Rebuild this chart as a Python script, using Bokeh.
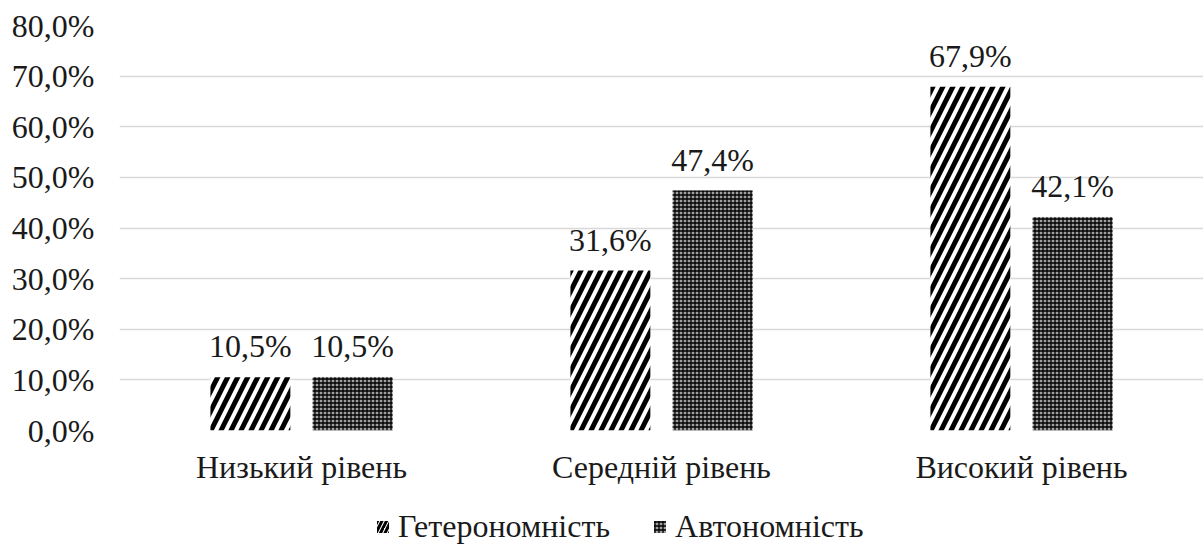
from bokeh.plotting import figure
from bokeh.layouts import column
from bokeh.models import ColumnDataSource, Range1d, FixedTicker, Legend, LegendItem
from bokeh.core.properties import value
from bokeh.embed import file_html
from bokeh.resources import INLINE

categories = ["Низький рівень", "Середній рівень", "Високий рівень"]
series_names = ["Гетерономність", "Автономність"]
hetero = [10.5, 31.6, 67.9]
auto = [10.5, 47.4, 42.1]
y_ticks = [0, 10, 20, 30, 40, 50, 60, 70, 80]
y_tick_labels = ["0,0%", "10,0%", "20,0%", "30,0%", "40,0%", "50,0%", "60,0%", "70,0%", "80,0%"]

FONT = "Liberation Serif"
FS = "32px"
TXT = "#1a1a1a"
BAR_W = 0.222
OFF = 0.142
W = 1203

STYLE_H = dict(fill_color="white", line_color=None, hatch_pattern="/",
               hatch_color="black", hatch_scale=20, hatch_weight=5)
STYLE_A = dict(fill_color="#a0a0a0", line_color=None, hatch_pattern="+",
               hatch_color="black", hatch_scale=4, hatch_weight=1.3)

def fmt(v):
    return f"{v:.1f}".replace(".", ",") + "%"

xc = [i + 0.5 for i in range(len(categories))]
src_h = ColumnDataSource(dict(x=[c - OFF for c in xc], top=hetero, lab=[fmt(v) for v in hetero]))
src_a = ColumnDataSource(dict(x=[c + OFF for c in xc], top=auto, lab=[fmt(v) for v in auto]))

p = figure(width=W, height=505, output_backend="svg", toolbar_location=None,
           x_range=Range1d(-0.0056, 3.0056), y_range=Range1d(0, 80),
           min_border_left=119, min_border_right=0, min_border_top=25, min_border_bottom=75)
p.outline_line_color = None

p.vbar(x="x", top="top", width=BAR_W, source=src_h, **STYLE_H)
p.vbar(x="x", top="top", width=BAR_W, source=src_a, **STYLE_A)

for s in (src_h, src_a):
    p.text(x="x", y="top", text="lab", source=s, text_font=value(FONT),
           text_font_size=FS, text_align="center", text_baseline="alphabetic",
           y_offset=-31, text_color=TXT)

p.xgrid.visible = False
p.ygrid.grid_line_color = "#d9d9d9"
p.ygrid.grid_line_width = 1.5
p.ygrid.ticker = FixedTicker(ticks=y_ticks)

p.yaxis.ticker = FixedTicker(ticks=y_ticks)
p.yaxis.major_label_overrides = {t: l for t, l in zip(y_ticks, y_tick_labels)}
p.yaxis.axis_line_color = None
p.yaxis.major_tick_line_color = None
p.yaxis.minor_tick_line_color = None
p.yaxis.major_label_standoff = 19
p.yaxis.major_label_text_font = FONT
p.yaxis.major_label_text_font_size = FS
p.yaxis.major_label_text_color = TXT

p.xaxis.ticker = FixedTicker(ticks=xc)
p.xaxis.major_label_overrides = {t: l for t, l in zip(xc, categories)}
p.xaxis.axis_line_color = None
p.xaxis.major_tick_line_color = None
p.xaxis.minor_tick_line_color = None
p.xaxis.major_label_standoff = 12
p.xaxis.major_label_text_font = FONT
p.xaxis.major_label_text_font_size = FS
p.xaxis.major_label_text_color = TXT

# legend strip below the chart
lg = figure(width=W, height=40, output_backend="svg", toolbar_location=None,
            x_range=Range1d(0, W), y_range=Range1d(0, 40),
            min_border_left=0, min_border_right=0, min_border_top=0, min_border_bottom=0)
lg.axis.visible = False
lg.grid.visible = False
lg.outline_line_color = None
dummy = ColumnDataSource(dict(x=[-1000], top=[0]))
lr_h = lg.vbar(x="x", top="top", width=1, source=dummy,
               **dict(STYLE_H, hatch_scale=9, hatch_weight=3))
lr_a = lg.vbar(x="x", top="top", width=1, source=dummy, **STYLE_A)
legend = Legend(items=[LegendItem(label=series_names[0], renderers=[lr_h]),
                       LegendItem(label=series_names[1], renderers=[lr_a])],
                orientation="horizontal", location=(256, 0),
                label_text_font=FONT, label_text_font_size=FS,
                label_text_color=TXT, glyph_width=15, glyph_height=15,
                spacing=42, border_line_color=None, background_fill_alpha=0,
                padding=0, margin=0, label_standoff=8)
lg.add_layout(legend, "center")

layout = column(p, lg, spacing=0)
open("out.html", "w").write(file_html(layout, INLINE))
